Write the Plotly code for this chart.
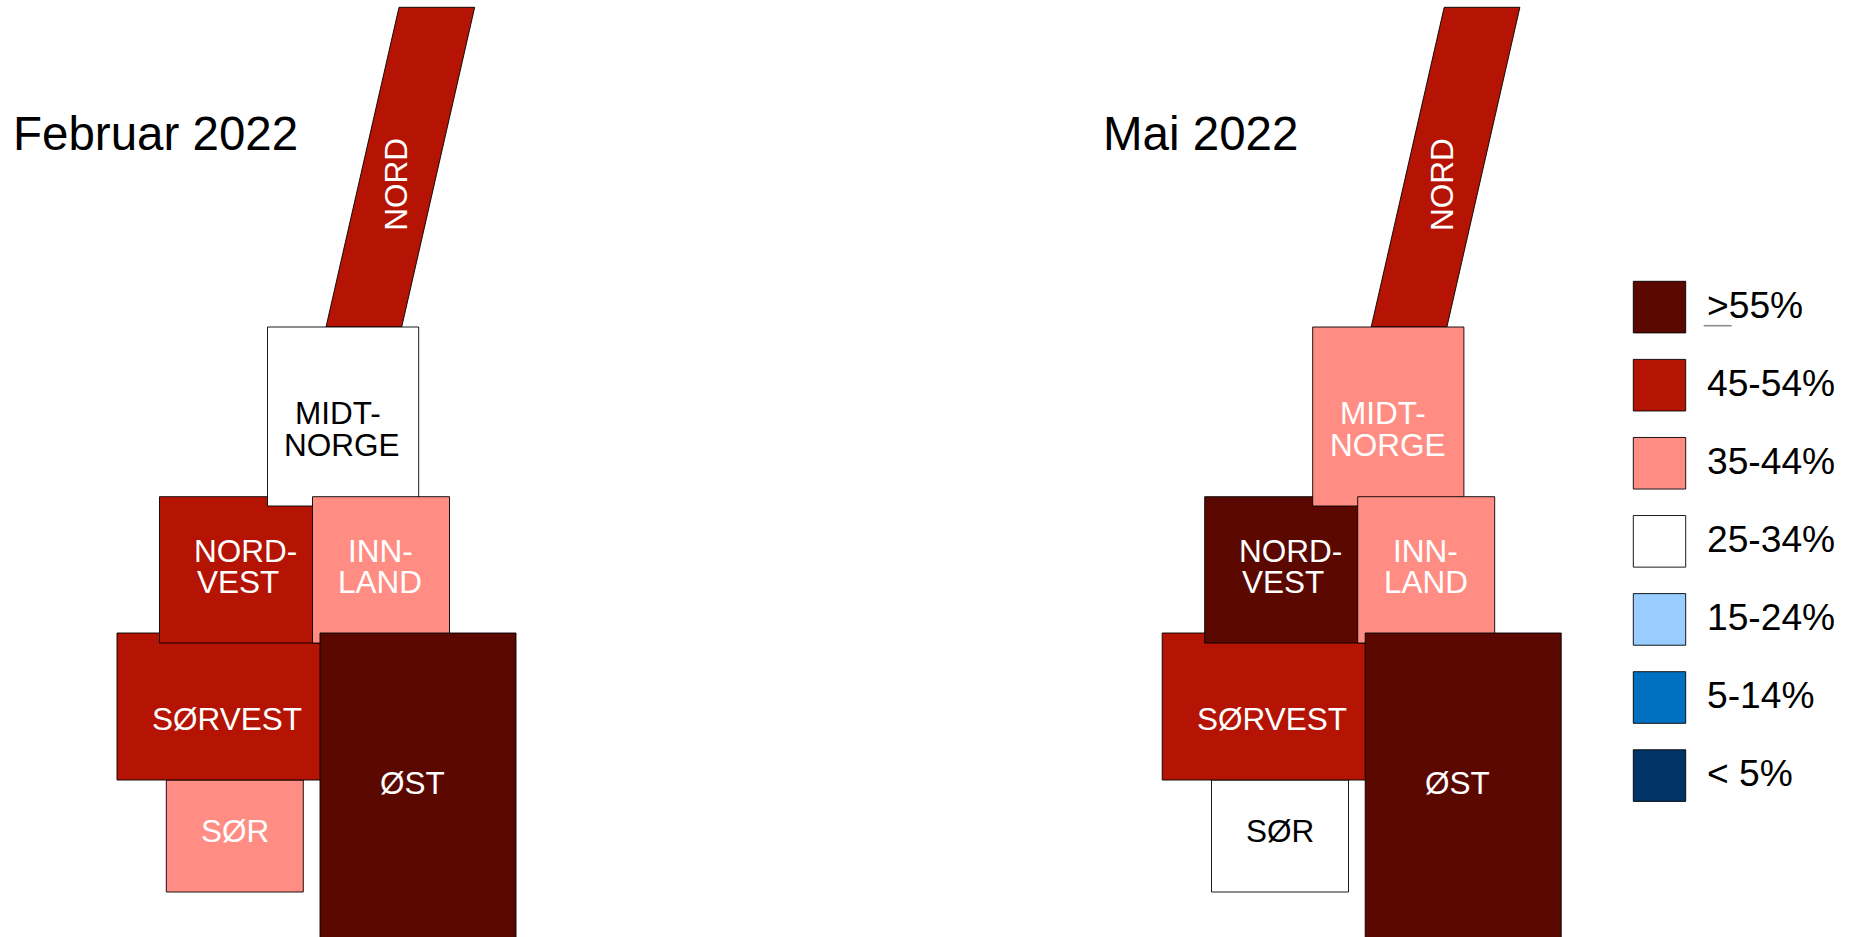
import plotly.graph_objects as go

# --- data ---
periods = ["Februar 2022", "Mai 2022"]
regions = ["NORD", "SØR", "SØRVEST", "NORDVEST", "MIDT-NORGE", "INNLAND", "ØST"]
bands_feb = ["45-54%", "35-44%", "45-54%", "45-54%", "25-34%", "35-44%", ">55%"]
bands_mai = ["45-54%", "25-34%", "45-54%", ">55%", "35-44%", "35-44%", ">55%"]
legend_labels = [">55%", "45-54%", "35-44%", "25-34%", "15-24%", "5-14%", "< 5%"]

# --- styles and schematic geometry (map units = pixels of the drawing) ---
band_colors = {">55%": "#5A0800", "45-54%": "#B51303", "35-44%": "#FF8D83", "25-34%": "#FFFFFF",
               "15-24%": "#99CCFF", "5-14%": "#0070C0", "< 5%": "#003366"}
text_colors = {"25-34%": "#000000"}
tile_outline = {
    "NORD": [(399, 7.3), (474.7, 7.3), (401.7, 327), (326, 327)],
    "SØR": [(166.3, 780), (303.3, 780), (303.3, 892), (166.3, 892)],
    "SØRVEST": [(117, 633), (330, 633), (330, 780), (117, 780)],
    "NORDVEST": [(159.5, 496.7), (320, 496.7), (320, 643), (159.5, 643)],
    "MIDT-NORGE": [(267.5, 327), (418.7, 327), (418.7, 506), (267.5, 506)],
    "INNLAND": [(312.5, 496.7), (449.5, 496.7), (449.5, 643), (312.5, 643)],
    "ØST": [(320, 633), (516, 633), (516, 975), (320, 975)],
}
tile_labels = {
    "NORD": [("NORD", 396, 184.7)],
    "SØR": [("SØR", 234.7, 832)],
    "SØRVEST": [("SØRVEST", 226.8, 720.3)],
    "NORDVEST": [("NORD-", 245.3, 551.7), ("VEST", 237.5, 582.7)],
    "MIDT-NORGE": [("MIDT-", 337.8, 414), ("NORGE", 342.3, 445.7)],
    "INNLAND": [("INN-", 380.5, 551.7), ("LAND", 380.3, 582.7)],
    "ØST": [("ØST", 412.7, 784.3)],
}
panel_dx = [0, 1045.2]
title_x = [13, 1103.4]
title_y = 133.3
swatch_x = (1633.3, 1685.7)
swatch_top = 281.3
swatch_step = 78.08
swatch_size = 51.6
legend_text_x = 1706.5
FONT = "Liberation Sans"
OUTLINE = dict(color="#000000", width=0.9)
LABEL_DY = -1.0
TITLE_DY = 0.0
LEGEND_DY = 0.0

fig = go.Figure()
annotations = []


def add_text(text, x, y, size, color="#000000", anchor="center", angle=0):
    annotations.append(dict(text=text, x=x, y=y, xref="x", yref="y", showarrow=False,
                            xanchor=anchor, yanchor="middle", textangle=angle,
                            borderpad=0, borderwidth=0,
                            font=dict(family=FONT, size=size, color=color)))


def polygon(points, fill):
    xs = [p[0] for p in points] + [points[0][0]]
    ys = [p[1] for p in points] + [points[0][1]]
    fig.add_trace(go.Scatter(x=xs, y=ys, mode="lines", fill="toself", fillcolor=fill,
                             line=OUTLINE, hoverinfo="skip", showlegend=False))


for period, dx, tx, bands in zip(periods, panel_dx, title_x, [bands_feb, bands_mai]):
    add_text(period, tx, title_y + TITLE_DY, 47.5, anchor="left")
    for region, band in zip(regions, bands):
        polygon([(x + dx, y) for x, y in tile_outline[region]], band_colors[band])
    for region, band in zip(regions, bands):
        color = text_colors.get(band, "#FFFFFF")
        for text, x, y in tile_labels[region]:
            if region == "NORD":
                add_text(text, x + dx, y, 31.5, color=color, angle=-90)
            else:
                add_text(text, x + dx, y + LABEL_DY, 31.5, color=color)

for i, label in enumerate(legend_labels):
    top = swatch_top + i * swatch_step
    polygon([(swatch_x[0], top), (swatch_x[1], top),
             (swatch_x[1], top + swatch_size), (swatch_x[0], top + swatch_size)], band_colors[label])
    add_text(label, legend_text_x, top + swatch_size / 2 - 2.4 + LEGEND_DY, 37.2, anchor="left")

# underline of the ">" in the top legend entry
fig.add_trace(go.Scatter(x=[1703.7, 1731.7], y=[325.7, 325.7], mode="lines",
                         line=dict(color="#8C8C8C", width=1.6), hoverinfo="skip", showlegend=False))

fig.update_layout(
    width=1852, height=937, margin=dict(l=0, r=0, t=0, b=0),
    paper_bgcolor="#FFFFFF", plot_bgcolor="#FFFFFF", annotations=annotations,
    xaxis=dict(range=[0, 1852], visible=False, fixedrange=True),
    yaxis=dict(range=[937, 0], visible=False, fixedrange=True),
)
fig.write_html("out.html", config={"displayModeBar": False},
               post_script="document.body.style.margin='0';document.body.style.overflow='hidden';")
